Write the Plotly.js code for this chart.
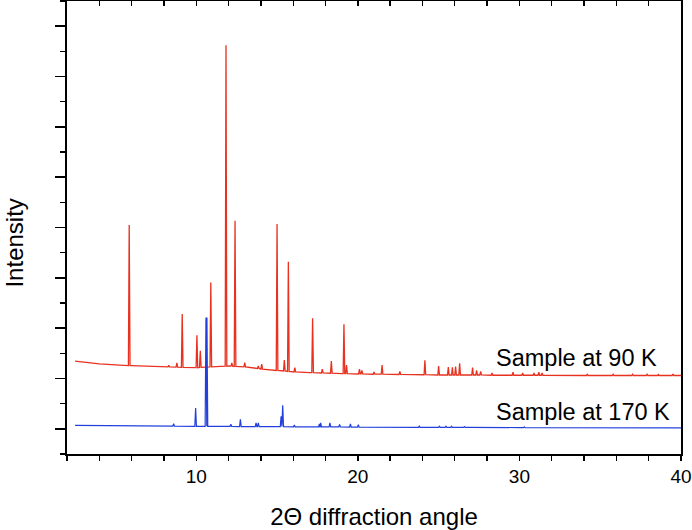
<!DOCTYPE html>
<html>
<head>
<meta charset="utf-8">
<script src="https://cdn.plot.ly/plotly-3.0.1.min.js"></script>
<style>html,body{margin:0;padding:0;background:#fff;}#chart{width:692px;height:530px;}</style>
</head>
<body>
<div id="chart"></div>
<script>
// ---- Data (2-theta in degrees, intensity in arbitrary units) ----
// Sample at 90 K: background level
const bg90X = [2.5, 3.0, 3.5, 4, 5, 6, 7, 8, 10, 11, 12, 13, 14, 15, 16, 17, 19, 22, 25, 30, 40];
const bg90Y = [3.69, 3.65, 3.61, 3.58, 3.54, 3.51, 3.48, 3.46, 3.43, 3.46, 3.50, 3.46, 3.38, 3.32, 3.27, 3.23, 3.19, 3.16, 3.14, 3.13, 3.12];
// Sample at 90 K: peaks (position, top, foot)
const pk90X    = [5.85, 8.3, 8.8, 9.13, 10.04, 10.25, 10.9, 11.84, 12.2, 12.4, 13.0, 13.84, 14.05, 15.0, 15.45, 15.7, 16.1, 17.2, 17.8, 18.36, 19.14, 19.3, 20.1, 20.25, 21.0, 21.5, 22.6, 24.15, 25.0, 25.6, 25.85, 26.05, 26.3, 27.1, 27.35, 27.6, 28.3, 29.6, 30.2, 30.9, 31.2, 31.4, 34.2, 35.8, 37.0, 37.9, 38.6, 39.5];
const pk90Top  = [9.1, 3.52, 3.62, 5.56, 4.72, 4.1, 6.81, 16.24, 3.62, 9.27, 3.63, 3.50, 3.57, 9.14, 3.73, 7.64, 3.43, 5.39, 3.37, 3.69, 5.16, 3.53, 3.37, 3.32, 3.26, 3.53, 3.28, 3.72, 3.49, 3.45, 3.44, 3.47, 3.60, 3.43, 3.32, 3.28, 3.22, 3.25, 3.22, 3.22, 3.25, 3.22, 3.18, 3.17, 3.17, 3.17, 3.16, 3.18];
const pk90Foot = [3.51, 3.46, 3.45, 3.44, 3.43, 3.44, 3.46, 3.49, 3.49, 3.48, 3.46, 3.40, 3.37, 3.32, 3.30, 3.28, 3.26, 3.23, 3.22, 3.21, 3.19, 3.19, 3.18, 3.18, 3.17, 3.17, 3.16, 3.15, 3.14, 3.14, 3.14, 3.14, 3.14, 3.14, 3.14, 3.14, 3.13, 3.13, 3.13, 3.13, 3.13, 3.13, 3.12, 3.12, 3.12, 3.12, 3.12, 3.12];

// Sample at 170 K: background level
const bg170X = [2.5, 10, 20, 30, 40];
const bg170Y = [1.14, 1.10, 1.07, 1.05, 1.04];
// Sample at 170 K: peaks (position, top, foot)
const pk170X    = [8.6, 9.96, 10.6, 10.66, 12.14, 12.73, 13.7, 13.84, 15.25, 15.35, 16.07, 17.62, 17.7, 18.27, 18.87, 19.54, 20.03, 23.8, 25.05, 25.45, 25.8, 26.6, 26.8, 30.3];
const pk170Top  = [1.20, 1.83, 5.42, 5.42, 1.18, 1.38, 1.24, 1.24, 1.50, 1.94, 1.15, 1.20, 1.24, 1.24, 1.17, 1.20, 1.17, 1.11, 1.10, 1.10, 1.10, 1.09, 1.09, 1.08];
const pk170Foot = [1.11, 1.10, 1.10, 1.10, 1.10, 1.09, 1.09, 1.09, 1.09, 1.09, 1.08, 1.08, 1.08, 1.08, 1.08, 1.07, 1.07, 1.06, 1.06, 1.06, 1.06, 1.06, 1.06, 1.05];

const seriesNames = ["Sample at 90 K", "Sample at 170 K"];

// ---- Build the polyline of each pattern from background + peaks ----
function buildPattern(bgX, bgY, pkX, pkTop, pkFoot, hw) {
  const pts = [];
  bgX.forEach((x, i) => {
    const inside = pkX.some(p => Math.abs(x - p) <= hw);
    if (!inside) pts.push([x, bgY[i]]);
  });
  pkX.forEach((x, i) => {
    pts.push([x - hw, pkFoot[i]]);
    pts.push([x, pkTop[i]]);
    pts.push([x + hw, pkFoot[i]]);
  });
  pts.sort((a, b) => a[0] - b[0]);
  return { x: pts.map(p => p[0]), y: pts.map(p => p[1]) };
}

const hw = 0.05;
const p90 = buildPattern(bg90X, bg90Y, pk90X, pk90Top, pk90Foot, hw);
const p170 = buildPattern(bg170X, bg170Y, pk170X, pk170Top, pk170Foot, hw);

const FONT = "Liberation Sans, Arial, Helvetica, sans-serif";

const traces = [
  { x: p90.x, y: p90.y, type: "scatter", mode: "lines", name: seriesNames[0],
    line: { color: "#e8311f", width: 1.3 }, hoverinfo: "skip" },
  { x: p170.x, y: p170.y, type: "scatter", mode: "lines", name: seriesNames[1],
    line: { color: "#2340dc", width: 1.2 }, hoverinfo: "skip" },
  { x: [], y: [], xaxis: "x2", type: "scatter", mode: "lines", showlegend: false, hoverinfo: "skip" }
];

const layout = {
  width: 692, height: 530,
  margin: { l: 67, r: 11, t: 1, b: 76 },
  paper_bgcolor: "#ffffff", plot_bgcolor: "#ffffff",
  showlegend: false,
  font: { family: FONT, color: "#000" },
  xaxis: {
    range: [2, 40], showgrid: false, zeroline: false,
    showline: true, linecolor: "#000", linewidth: 1.6, mirror: true,
    ticks: "outside", ticklen: 5, tickwidth: 1.4, tickcolor: "#000",
    tick0: 0, dtick: 10,
    minor: { ticks: "outside", ticklen: 5, tickwidth: 1.4, tickcolor: "#000", tick0: 0, dtick: 2, showgrid: false },
    tickfont: { family: FONT, size: 19, color: "#000" },
    title: { text: "2Θ diffraction angle", font: { family: FONT, size: 24, color: "#000" }, standoff: 23 }
  },
  xaxis2: {
    range: [2, 40], overlaying: "x", side: "top", anchor: "y",
    showgrid: false, zeroline: false, showline: false,
    ticks: "inside", ticklen: 5, tickwidth: 1.4, tickcolor: "#000",
    tick0: 0, dtick: 2, showticklabels: false
  },
  yaxis: {
    range: [0, 18], showgrid: false, zeroline: false,
    showline: true, linecolor: "#000", linewidth: 1.6, mirror: true,
    ticks: "outside", ticklen: 10, tickwidth: 1.4, tickcolor: "#000",
    tick0: 1, dtick: 2, showticklabels: false,
    minor: { ticks: "outside", ticklen: 5, tickwidth: 1.4, tickcolor: "#000", tick0: 0, dtick: 1, showgrid: false }
  },
  annotations: [
    { text: "Intensity", xref: "paper", yref: "paper", x: -0.086, y: 0.465,
      xanchor: "center", yanchor: "middle", textangle: -90, showarrow: false,
      font: { family: FONT, size: 24, color: "#000" } },
    { text: seriesNames[0], xref: "x", yref: "y", x: 28.45, y: 3.82,
      xanchor: "left", yanchor: "middle", showarrow: false,
      font: { family: FONT, size: 23.5, color: "#000" } },
    { text: seriesNames[1], xref: "x", yref: "y", x: 28.45, y: 1.66,
      xanchor: "left", yanchor: "middle", showarrow: false,
      font: { family: FONT, size: 23.5, color: "#000" } }
  ]
};

Plotly.newPlot("chart", traces, layout, { staticPlot: true, displayModeBar: false });
</script>
</body>
</html>
